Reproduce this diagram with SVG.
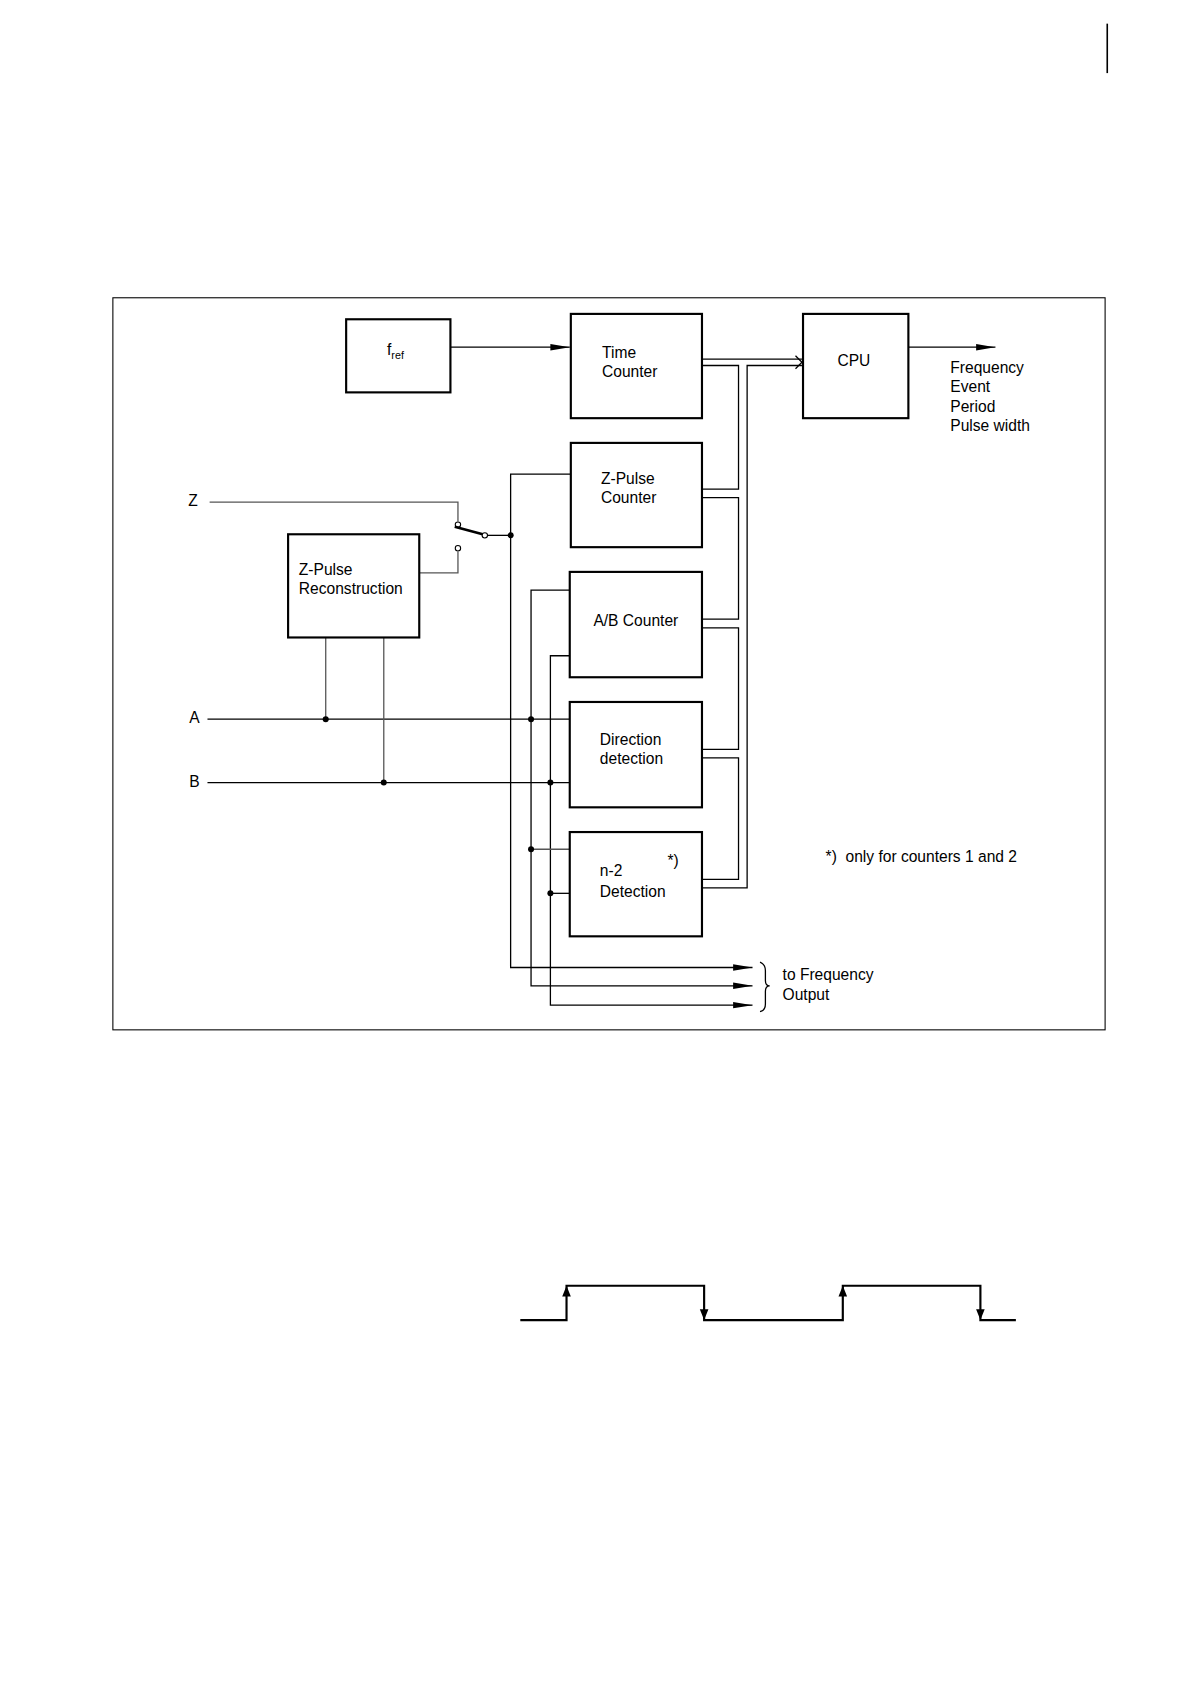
<svg xmlns="http://www.w3.org/2000/svg" width="1190" height="1684" viewBox="0 0 1190 1684">
<style>
.b{fill:#fff;stroke:#000;stroke-width:2}
.l{fill:none;stroke:#000;stroke-width:1.2}
.g{fill:none;stroke:#555;stroke-width:1.2}
.t{font-family:"Liberation Sans",Arial,sans-serif;font-size:14.5px;fill:#000}
.w{fill:none;stroke:#000;stroke-width:2}
</style>
<defs>
<marker id="a" markerWidth="18" markerHeight="8" refX="18" refY="4" orient="auto" markerUnits="userSpaceOnUse"><path d="M0,1 L18,4 L0,7 Z" fill="#000"/></marker>
</defs>
<rect width="1190" height="1684" fill="#fff"/>
<g transform="scale(1.075)">
<line x1="1030" y1="22" x2="1030" y2="68" stroke="#000" stroke-width="1.5"/>
<rect x="105" y="277" width="923" height="681" fill="none" stroke="#000" stroke-width="1"/>
<g id="connectors">
<path class="l" d="M419,323 H530" marker-end="url(#a)"/>
<path class="l" d="M845,323 H926" marker-end="url(#a)"/>
<path class="l" d="M653,334 H746"/>
<path class="l" d="M653,340 H687 V455 H653"/>
<path class="l" d="M653,463 H687 V576 H653"/>
<path class="l" d="M653,584 H687 V697 H653"/>
<path class="l" d="M653,705 H687 V818 H653"/>
<path class="l" d="M653,826 H695 V340 H746"/>
<path class="l" d="M740,331 L746,337 L740,343"/>
<path class="g" d="M195,467 H426 V485"/>
<circle cx="426" cy="488" r="2.5" fill="#fff" stroke="#000"/>
<line x1="423" y1="490" x2="449" y2="497" stroke="#000" stroke-width="2.5"/>
<circle cx="451" cy="498" r="2.5" fill="#fff" stroke="#000"/>
<circle cx="426" cy="510" r="2.5" fill="#fff" stroke="#000"/>
<path class="g" d="M426,513 V533 H390"/>
<path class="l" d="M453,498 H475"/>
<path class="l" d="M531,441 H475 V900 H700" marker-end="url(#a)"/>
<path class="l" d="M193,669 H530"/>
<path class="l" d="M193,728 H530"/>
<path class="g" d="M303,593 V669"/>
<path class="g" d="M357,593 V728"/>
<path class="l" d="M530,549 H494 V917 H700" marker-end="url(#a)"/>
<path class="l" d="M530,610 H512 V935 H700" marker-end="url(#a)"/>
<path class="g" d="M494,790 H530"/>
<path class="l" d="M512,831 H530"/>
<g fill="#000"><circle cx="475" cy="498" r="2.8"/><circle cx="303" cy="669" r="2.8"/><circle cx="357" cy="728" r="2.8"/><circle cx="494" cy="669" r="2.8"/><circle cx="512" cy="728" r="2.8"/><circle cx="494" cy="790" r="2.8"/><circle cx="512" cy="831" r="2.8"/></g>
<path class="l" d="M707,895 Q712,897 712,903 V912 Q712,917 716,917 Q712,917 712,922 V934 Q712,940 707,941"/>
</g>
<g id="fref"><rect class="b" x="322" y="297" width="97" height="68"/><text class="t" x="360" y="330">f<tspan font-size="10" dy="4">ref</tspan></text></g>
<g id="time"><rect class="b" x="531" y="292" width="122" height="97"/><text class="t" x="560" y="333">Time</text><text class="t" x="560" y="351">Counter</text></g>
<g id="cpu"><rect class="b" x="747" y="292" width="98" height="97"/><text class="t" x="779" y="340">CPU</text></g>
<g id="zpc"><rect class="b" x="531" y="412" width="122" height="97"/><text class="t" x="559" y="450">Z-Pulse</text><text class="t" x="559" y="468">Counter</text></g>
<g id="ab"><rect class="b" x="530" y="532" width="123" height="98"/><text class="t" x="552" y="582">A/B Counter</text></g>
<g id="dir"><rect class="b" x="530" y="653" width="123" height="98"/><text class="t" x="558" y="693">Direction</text><text class="t" x="558" y="711">detection</text></g>
<g id="n2"><rect class="b" x="530" y="774" width="123" height="97"/><text class="t" x="558" y="815">n-2</text><text class="t" x="558" y="834">Detection</text><text class="t" x="621" y="806">*)</text></g>
<g id="zrec"><rect class="b" x="268" y="497" width="122" height="96"/><text class="t" x="278" y="535">Z-Pulse</text><text class="t" x="278" y="553">Reconstruction</text></g>
<g id="labels">
<text class="t" x="175" y="471">Z</text>
<text class="t" x="176" y="673">A</text>
<text class="t" x="176" y="732">B</text>
<text class="t" x="884" y="347">Frequency</text>
<text class="t" x="884" y="365">Event</text>
<text class="t" x="884" y="383">Period</text>
<text class="t" x="884" y="401">Pulse width</text>
<text class="t" x="768" y="802" xml:space="preserve">*)  only for counters 1 and 2</text>
<text class="t" x="728" y="912">to Frequency</text>
<text class="t" x="728" y="930">Output</text>
</g>
<g id="waveform">
<path class="w" d="M484,1228 H527 V1196 H655 V1228 H784 V1196 H912 V1228 H945"/>
<path d="M523,1206 L527,1196 L531,1206 Z M780,1206 L784,1196 L788,1206 Z M651,1218 L655,1228 L659,1218 Z M908,1218 L912,1228 L916,1218 Z" fill="#000"/>
</g>
</g>
</svg>
